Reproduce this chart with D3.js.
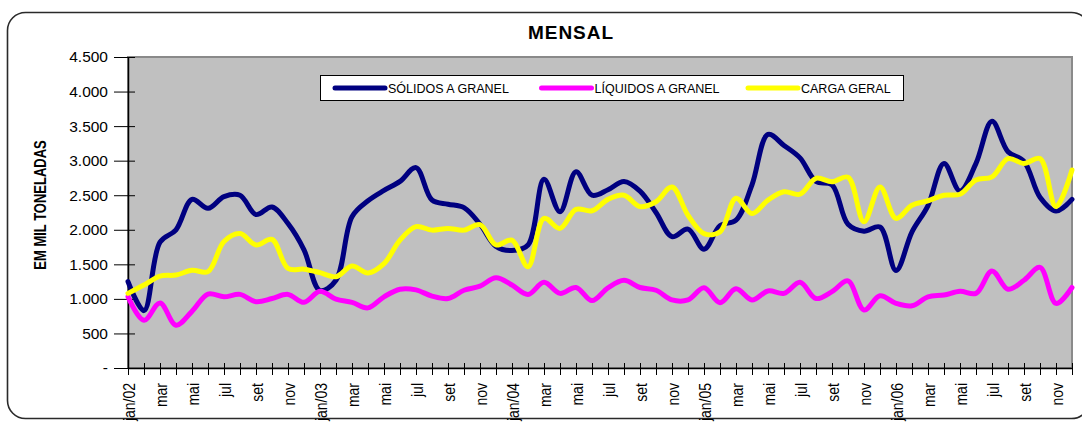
<!DOCTYPE html>
<html>
<head>
<meta charset="utf-8">
<script src="https://cdn.jsdelivr.net/npm/d3@7"></script>
<style>
  html, body { margin: 0; padding: 0; background: #fff; }
  svg { display: block; font-family: "Liberation Sans", Arial, sans-serif; }
</style>
</head>
<body>
<div class="chart"></div>
<script>
// months jan/02 .. dez/06
const monthNames = ["jan", "fev", "mar", "abr", "mai", "jun", "jul", "ago", "set", "out", "nov", "dez"];
const years = ["02", "03", "04", "05", "06"];
const months = years.flatMap(y => monthNames.map(m => `${m}/${y}`));
// only every other month gets a label, jan shows the year
const xTickLabels = months.map((m, i) => i % 2 ? "" : (i % 12 === 0 ? m : m.split("/")[0]));

const yTicks = [0, 500, 1000, 1500, 2000, 2500, 3000, 3500, 4000, 4500];
const yTickLabels = ["-", "500", "1.000", "1.500", "2.000", "2.500", "3.000", "3.500", "4.000", "4.500"];

// values in thousand tonnes
const solidos = [
  1250, 830, 1820, 2000, 2440, 2310, 2480, 2500, 2220, 2330, 2090, 1710,
  1120, 1270, 2190, 2420, 2570, 2700, 2900, 2430, 2370, 2320, 2080, 1760,
  1700, 1780, 2730, 2260, 2840, 2500, 2580, 2700, 2560, 2250, 1900, 2010,
  1720, 2060, 2140, 2650, 3380, 3220, 3040, 2700, 2650, 2080, 1980, 2040,
  1410, 1970, 2350, 2960, 2560, 2960, 3570, 3130, 2990, 2470, 2270, 2440
];
const liquidos = [
  1030, 690, 940, 620, 820, 1070, 1030, 1065, 960, 1005, 1065, 950,
  1110, 995, 950, 870, 1030, 1140, 1130, 1040, 1005, 1125, 1185, 1305,
  1200, 1065, 1240, 1080, 1165, 975, 1160, 1270, 1165, 1125, 985, 985,
  1160, 945, 1145, 985, 1115, 1080, 1240, 1005, 1105, 1260, 840, 1045,
  935, 900, 1030, 1055, 1110, 1080, 1405, 1140, 1270, 1455, 935, 1165
];
const cargaGeral = [
  1080, 1200, 1330, 1345, 1415, 1395, 1830, 1945, 1780, 1860, 1440, 1430,
  1380, 1320, 1475, 1375, 1510, 1850, 2045, 1995, 2020, 1995, 2075, 1780,
  1850, 1465, 2165, 2020, 2295, 2275, 2440, 2500, 2335, 2405, 2620, 2210,
  1945, 1970, 2455, 2235, 2430, 2550, 2515, 2745, 2695, 2760, 2115, 2620,
  2165, 2355, 2420, 2500, 2515, 2720, 2765, 3030, 2960, 3030, 2335, 2865
];

const seriesNames = ["SÓLIDOS A GRANEL", "LÍQUIDOS A GRANEL", "CARGA GERAL"];
const seriesColors = ["#000080", "#ff00ff", "#ffff00"];
const seriesValues = [solidos, liquidos, cargaGeral];

const W = 1082, H = 424;
const plot = { left: 128, right: 1072, top: 57, bottom: 368 };

const svg = d3.select(".chart").append("svg")
    .attr("width", W)
    .attr("height", H);

// chart frame
svg.append("rect")
    .attr("x", 7.5).attr("y", 12.5)
    .attr("width", 1082).attr("height", 406)
    .attr("rx", 18)
    .attr("fill", "#fff")
    .attr("stroke", "#2a2a2a")
    .attr("stroke-width", 1.6);

const x = d3.scalePoint().domain(months).range([plot.left, plot.right]);
const y = d3.scaleLinear().domain([0, 4500]).range([plot.bottom, plot.top]);

// plot area
svg.append("rect")
    .attr("x", plot.left).attr("y", plot.top)
    .attr("width", plot.right - plot.left)
    .attr("height", plot.bottom - plot.top)
    .attr("fill", "#c0c0c0")
    .attr("stroke", "#8a8a8a")
    .attr("stroke-width", 2);

// title
svg.append("text")
    .attr("x", 571).attr("y", 39)
    .attr("text-anchor", "middle")
    .attr("font-size", 19)
    .attr("font-weight", "bold")
    .attr("letter-spacing", 1)
    .text("MENSAL");

// y axis title (stretched a bit, like the original)
svg.append("text")
    .attr("transform", "translate(46,205) scale(1.3,1) rotate(-90)")
    .attr("text-anchor", "middle")
    .attr("font-size", 13)
    .attr("font-weight", "bold")
    .text("EM MIL TONELADAS");

// y axis
const yAxis = svg.append("g")
    .attr("transform", `translate(${plot.left},0)`)
    .call(d3.axisLeft(y)
        .tickValues(yTicks)
        .tickFormat((d, i) => yTickLabels[i])
        .tickSize(14)
        .tickSizeOuter(0)
        .tickPadding(6));
yAxis.selectAll(".tick line").attr("x1", 7).attr("stroke", "#000");
yAxis.select(".domain").attr("stroke", "#000").attr("stroke-width", 1.5);
yAxis.selectAll("text")
    .attr("font-size", 15.5)
    .attr("fill", "#000")
    .attr("font-family", "'Liberation Sans', Arial, sans-serif");

// x axis
const xAxis = svg.append("g")
    .attr("transform", `translate(0,${plot.bottom})`)
    .call(d3.axisBottom(x)
        .tickFormat((d, i) => xTickLabels[i])
        .tickSize(7)
        .tickSizeOuter(0)
        .tickPadding(0));
xAxis.selectAll(".tick line").attr("y1", -5).attr("stroke", "#000");
xAxis.select(".domain").attr("stroke", "#000").attr("stroke-width", 1.5);
xAxis.selectAll("text")
    .attr("transform", "scale(1.2,1) rotate(-90)")
    .attr("text-anchor", "end")
    .attr("x", -15)
    .attr("y", 0)
    .attr("dy", "0.36em")
    .attr("font-size", 14)
    .attr("fill", "#000")
    .attr("font-family", "'Liberation Sans', Arial, sans-serif");

// series lines
const line = d3.line()
    .x((d, i) => x(months[i]))
    .y(d => y(d))
    .curve(d3.curveCatmullRom.alpha(0.5));

svg.append("g").selectAll("path")
    .data(seriesValues)
    .join("path")
        .attr("d", line)
        .attr("fill", "none")
        .attr("stroke", (d, i) => seriesColors[i])
        .attr("stroke-width", 5)
        .attr("stroke-linejoin", "round")
        .attr("stroke-linecap", "round");

// legend
const legend = svg.append("g");
legend.append("rect")
    .attr("x", 320.5).attr("y", 75.5)
    .attr("width", 583).attr("height", 25)
    .attr("fill", "#fff")
    .attr("stroke", "#000")
    .attr("stroke-width", 1);

const legendX = d3.scalePoint().domain(seriesNames).range([335, 748]);
const item = legend.selectAll("g.item")
    .data(seriesNames)
    .join("g")
        .attr("class", "item")
        .attr("transform", d => `translate(${legendX(d)},88)`);
item.append("line")
    .attr("x1", 0).attr("x2", 50)
    .attr("stroke", (d, i) => seriesColors[i])
    .attr("stroke-width", 5)
    .attr("stroke-linecap", "round");
item.append("text")
    .attr("x", 53)
    .attr("dy", "0.36em")
    .attr("font-size", 12.5)
    .text(d => d);
</script>
</body>
</html>
